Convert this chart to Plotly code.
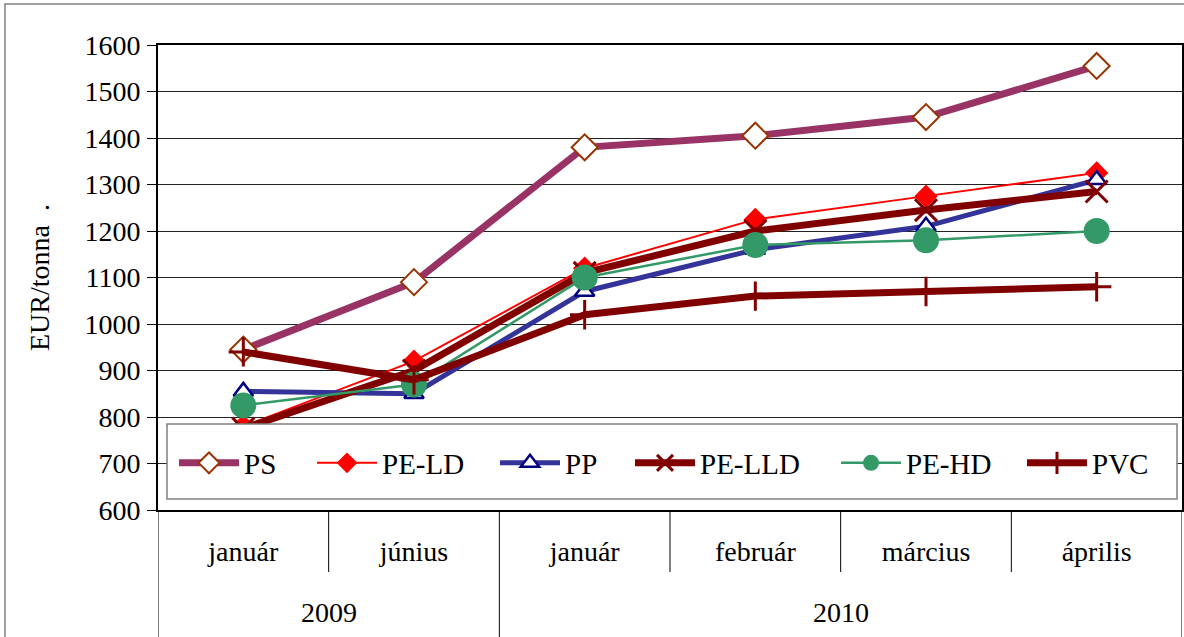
import plotly.graph_objects as go

# ---- data ----
years = ["2009", "2009", "2010", "2010", "2010", "2010"]
months = ["január", "június", "január", "február", "március", "április"]
ps = [945, 1090, 1380, 1405, 1445, 1555]
pe_ld = [780, 920, 1120, 1225, 1275, 1325]
pp = [855, 850, 1070, 1160, 1210, 1310]
pe_lld = [775, 900, 1110, 1200, 1245, 1285]
pe_hd = [825, 870, 1100, 1170, 1180, 1200]
pvc = [940, 880, 1020, 1060, 1070, 1080]
series_names = ["PS", "PE-LD", "PP", "PE-LLD", "PE-HD", "PVC"]
y_title = "EUR/tonna  ."
y_range = [600, 1600]

# ---- layout geometry (pixels) ----
W, H = 1184, 637
ML, MR, MT, MB = 158, 2, 45, 127
PW, PH = W - ML - MR, H - MT - MB
FONT = "Liberation Serif"

def px_x(p):
    return (p - ML) / PW

def px_y(p):
    return (H - MB - p) / PH

x = list(range(len(months)))

styles = [
    dict(line=dict(color="#993366", width=7),
         marker=dict(symbol="diamond", size=20, color="white",
                     line=dict(color="#993300", width=2))),
    dict(line=dict(color="#FF0000", width=2),
         marker=dict(symbol="diamond", size=18, color="#FF0000",
                     line=dict(color="#FF0000", width=0))),
    dict(line=dict(color="#333399", width=5),
         marker=dict(symbol="triangle-up", size=17, color="white",
                     line=dict(color="#000080", width=2.5))),
    dict(line=dict(color="#800000", width=7),
         marker=dict(symbol="x-thin", size=22, color="#800000",
                     line=dict(color="#800000", width=3))),
    dict(line=dict(color="#339966", width=2.5),
         marker=dict(symbol="circle", size=26, color="#339966",
                     line=dict(color="#339966", width=0))),
    dict(line=dict(color="#800000", width=7),
         marker=dict(symbol="cross-thin", size=21, color="#800000",
                     line=dict(color="#800000", width=3))),
]
values = [ps, pe_ld, pp, pe_lld, pe_hd, pvc]
legend_px = [184, 322, 505, 640, 846, 1032]

fig = go.Figure()
for i, (name, vals, st) in enumerate(zip(series_names, values, styles)):
    fig.add_trace(go.Scatter(x=x, y=vals, name=name, mode="lines+markers",
                             line=st["line"], marker=st["marker"],
                             legend=f"legend{i+2}"))

legend_y = px_y(463)
for i, p in enumerate(legend_px):
    fig.update_layout({f"legend{i+2}": dict(x=px_x(p - 10), y=legend_y, xanchor="left",
                                 yanchor="middle", orientation="h",
                                 bgcolor="rgba(0,0,0,0)", borderwidth=0,
                                 font=dict(family=FONT, size=29, color="black"),
                                 itemwidth=60)})

shapes = []
# outer chart border
shapes.append(dict(type="rect", xref="paper", yref="paper",
                   x0=px_x(5), x1=px_x(1200), y0=px_y(660), y1=px_y(4),
                   line=dict(color="#808080", width=1.5), fillcolor="rgba(0,0,0,0)",
                   layer="below"))
# legend box
shapes.append(dict(type="rect", xref="paper", yref="paper",
                   x0=px_x(167), x1=px_x(1177), y0=px_y(499), y1=px_y(424),
                   line=dict(color="#808080", width=1.5), fillcolor="white",
                   layer="above"))
# category dividers under the axis
n = len(months)
for k in range(n + 1):
    bx = k - 0.5
    full = k == 0 or k == n or years[k] != years[k - 1]
    shapes.append(dict(type="line", xref="x", yref="paper", x0=bx, x1=bx,
                       y0=0, y1=px_y(660 if full else 572),
                       line=dict(color="black", width=1)))

annotations = []
for yr in dict.fromkeys(years):
    idx = [i for i, v in enumerate(years) if v == yr]
    annotations.append(dict(x=sum(idx) / len(idx), y=px_y(612), xref="x", yref="paper",
                            text=yr, showarrow=False, yanchor="middle",
                            font=dict(family=FONT, size=28, color="black")))

fig.update_layout(
    width=W, height=H,
    margin=dict(l=ML, r=MR, t=MT, b=MB, autoexpand=False),
    paper_bgcolor="white", plot_bgcolor="white",
    font=dict(family=FONT, size=28, color="black"),
    shapes=shapes, annotations=annotations,
    xaxis=dict(range=[-0.5, n - 0.5], tickvals=x, ticktext=months,
               showgrid=False, zeroline=False, ticks="",
               showline=True, linecolor="black", linewidth=2, mirror=True,
               tickfont=dict(family=FONT, size=28, color="black"),
               ticklabelstandoff=15),
    yaxis=dict(range=y_range, dtick=100, tick0=600,
               showgrid=True, gridcolor="#222222", gridwidth=1,
               zeroline=False, ticks="outside", ticklen=9, tickcolor="black",
               showline=True, linecolor="black", linewidth=2, mirror=True,
               tickfont=dict(family=FONT, size=28, color="black"),
               ticklabelstandoff=1,
               title=dict(text=y_title, standoff=27,
                          font=dict(family=FONT, size=28, color="black"))),
)

fig.write_html("out.html", config={"displayModeBar": False},
               post_script="document.body.style.margin='0';document.body.style.overflow='hidden';")
